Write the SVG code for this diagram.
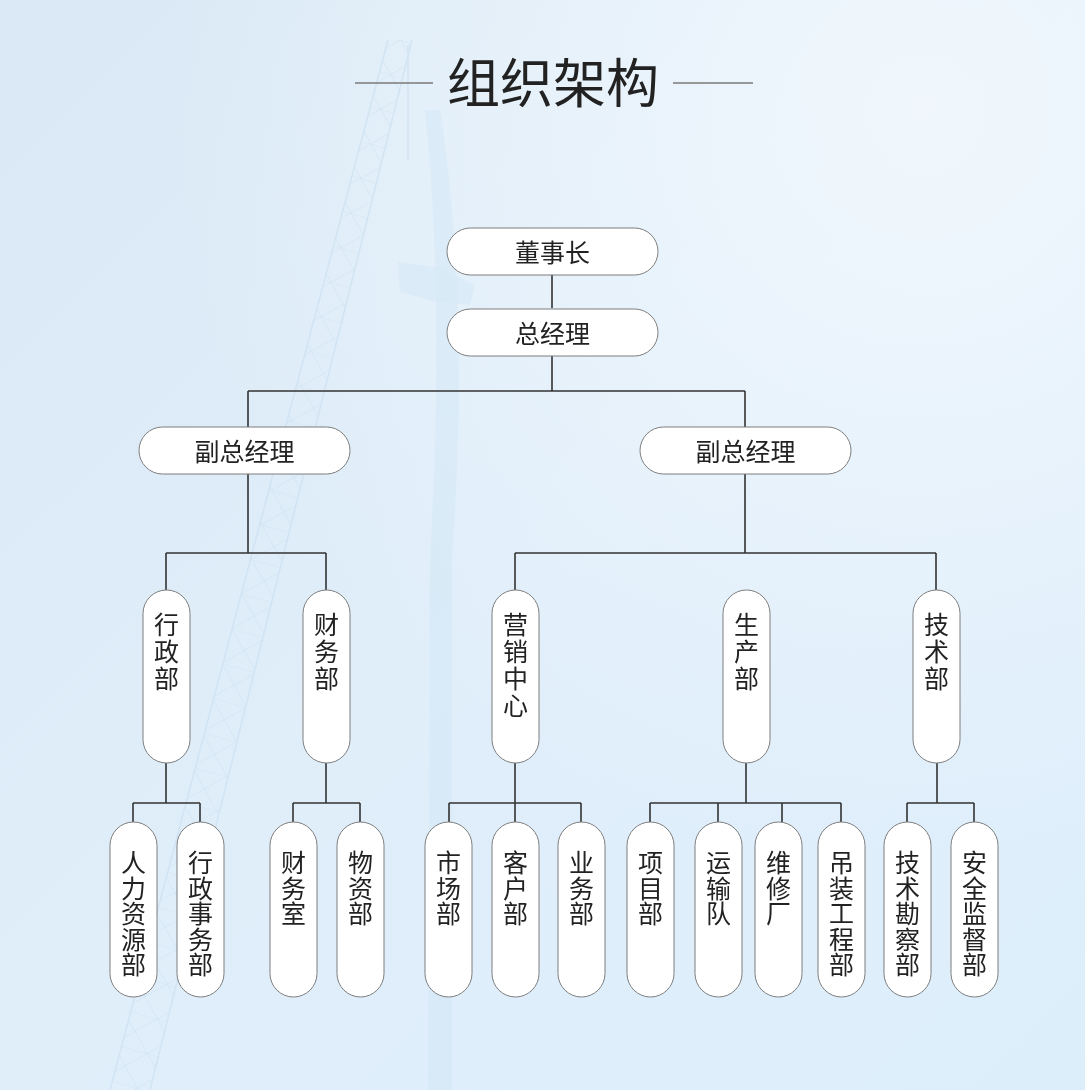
<svg xmlns="http://www.w3.org/2000/svg" width="1085" height="1090" viewBox="0 0 1085 1090">
<defs>
<linearGradient id="bg" x1="0" y1="0" x2="1" y2="1">
<stop offset="0" stop-color="#dae9f5"/>
<stop offset="0.5" stop-color="#e0eefa"/>
<stop offset="1" stop-color="#ddeefb"/>
</linearGradient>
<radialGradient id="glow" cx="0.85" cy="0.1" r="0.7">
<stop offset="0" stop-color="#f2f8fd" stop-opacity="0.9"/>
<stop offset="1" stop-color="#f2f8fd" stop-opacity="0"/>
</radialGradient>
<pattern id="lattice" width="36" height="36" patternUnits="userSpaceOnUse" patternTransform="rotate(16)">
<path d="M0 0 L36 36 M36 0 L0 36 M0 0 H36" stroke="#c9dfef" stroke-width="1" fill="none"/>
</pattern>
<style>
.node{fill:#ffffff;stroke:#7d7d7d;stroke-width:1}
.t{font-family:"Noto Sans CJK SC","Noto Sans CJK JP",sans-serif;font-size:25px;fill:#222;text-anchor:middle;dominant-baseline:central}
.title{font-family:"Noto Sans CJK SC","Noto Sans CJK JP",sans-serif;font-size:53px;fill:#222;text-anchor:middle;dominant-baseline:central}
.c{stroke:#333;stroke-width:1.6;fill:none}
.deco{stroke:#7a7a7a;stroke-width:1.4}
</style>
</defs>
<rect x="0" y="0" width="1085" height="1090" fill="url(#bg)"/>
<rect x="0" y="0" width="1085" height="1090" fill="url(#glow)"/>
<g opacity="0.55">
<path d="M110 1090 L150 1090 L412 40 L388 40 Z" fill="url(#lattice)"/>
<path d="M110 1090 L388 40 M150 1090 L412 40" stroke="#c6dcee" stroke-width="1.5" fill="none"/>
<path d="M408 45 L408 160" stroke="#c6dcee" stroke-width="1.5"/>
<path d="M425 110 Q445 300 430 560 L428 1090 L452 1090 L452 560 Q470 300 440 110 Z" fill="#cfe4f5" opacity="0.7"/>
<path d="M398 262 L440 268 L475 285 L470 305 L430 300 L400 292 Z" fill="#cfe4f5" opacity="0.7"/>
</g>
<line class="deco" x1="355" y1="83" x2="433" y2="83"/>
<line class="deco" x1="673" y1="83" x2="753" y2="83"/>
<text class="title" x="553" y="80">组织架构</text>
<g id="connectors">
<path class="c" d="M552 275 V308 M552 356 V391 M248 391 H745 M248 391 V427 M745 391 V427"/>
<path class="c" d="M248 474 V553 M166 553 H326 M166 553 V590 M326 553 V590"/>
<path class="c" d="M745 474 V553 M515 553 H936 M515 553 V590 M936 553 V590"/>
<path class="c" d="M166 763 V803 M133 803 H200 M133 803 V822 M200 803 V822"/>
<path class="c" d="M326 763 V803 M293 803 H360 M293 803 V822 M360 803 V822"/>
<path class="c" d="M515 763 V803 M449 803 H581 M449 803 V822 M515 803 V822 M581 803 V822"/>
<path class="c" d="M746 763 V803 M650 803 H841 M650 803 V822 M718 803 V822 M782 803 V822 M841 803 V822"/>
<path class="c" d="M937 763 V803 M907 803 H974 M907 803 V822 M974 803 V822"/>
</g>
<g id="n-dongshizhang"><rect class="node" x="447" y="228" width="211" height="47" rx="23.5"/><text class="t" x="552.5" y="251">董事长</text></g>
<g id="n-zongjingli"><rect class="node" x="447" y="309" width="211" height="47" rx="23.5"/><text class="t" x="552.5" y="332">总经理</text></g>
<g id="n-fuzong-left"><rect class="node" x="139" y="427" width="211" height="47" rx="23.5"/><text class="t" x="244.5" y="450">副总经理</text></g>
<g id="n-fuzong-right"><rect class="node" x="640" y="427" width="211" height="47" rx="23.5"/><text class="t" x="745.5" y="450">副总经理</text></g>

<g id="n-xingzhengbu"><rect class="node" x="143" y="590" width="47" height="173" rx="23.5"/><text class="t"><tspan x="166.5" y="623">行</tspan><tspan x="166.5" y="650">政</tspan><tspan x="166.5" y="677">部</tspan></text></g>
<g id="n-caiwubu"><rect class="node" x="303" y="590" width="47" height="173" rx="23.5"/><text class="t"><tspan x="326.5" y="623">财</tspan><tspan x="326.5" y="650">务</tspan><tspan x="326.5" y="677">部</tspan></text></g>
<g id="n-yingxiao"><rect class="node" x="492" y="590" width="47" height="173" rx="23.5"/><text class="t"><tspan x="515.5" y="623">营</tspan><tspan x="515.5" y="650">销</tspan><tspan x="515.5" y="677">中</tspan><tspan x="515.5" y="704">心</tspan></text></g>
<g id="n-shengchan"><rect class="node" x="723" y="590" width="47" height="173" rx="23.5"/><text class="t"><tspan x="746.5" y="623">生</tspan><tspan x="746.5" y="650">产</tspan><tspan x="746.5" y="677">部</tspan></text></g>
<g id="n-jishu"><rect class="node" x="913" y="590" width="47" height="173" rx="23.5"/><text class="t"><tspan x="936.5" y="623">技</tspan><tspan x="936.5" y="650">术</tspan><tspan x="936.5" y="677">部</tspan></text></g>

<g id="n-renli"><rect class="node" x="110" y="822" width="47" height="175" rx="23.5"/><text class="t"><tspan x="133.5" y="861">人</tspan><tspan x="133.5" y="886.5">力</tspan><tspan x="133.5" y="912">资</tspan><tspan x="133.5" y="937.5">源</tspan><tspan x="133.5" y="963">部</tspan></text></g>
<g id="n-xingzhengshiwu"><rect class="node" x="177" y="822" width="47" height="175" rx="23.5"/><text class="t"><tspan x="200.5" y="861">行</tspan><tspan x="200.5" y="886.5">政</tspan><tspan x="200.5" y="912">事</tspan><tspan x="200.5" y="937.5">务</tspan><tspan x="200.5" y="963">部</tspan></text></g>
<g id="n-caiwushi"><rect class="node" x="270" y="822" width="47" height="175" rx="23.5"/><text class="t"><tspan x="293.5" y="861">财</tspan><tspan x="293.5" y="886.5">务</tspan><tspan x="293.5" y="912">室</tspan></text></g>
<g id="n-wuzi"><rect class="node" x="337" y="822" width="47" height="175" rx="23.5"/><text class="t"><tspan x="360.5" y="861">物</tspan><tspan x="360.5" y="886.5">资</tspan><tspan x="360.5" y="912">部</tspan></text></g>
<g id="n-shichang"><rect class="node" x="425" y="822" width="47" height="175" rx="23.5"/><text class="t"><tspan x="448.5" y="861">市</tspan><tspan x="448.5" y="886.5">场</tspan><tspan x="448.5" y="912">部</tspan></text></g>
<g id="n-kehu"><rect class="node" x="492" y="822" width="47" height="175" rx="23.5"/><text class="t"><tspan x="515.5" y="861">客</tspan><tspan x="515.5" y="886.5">户</tspan><tspan x="515.5" y="912">部</tspan></text></g>
<g id="n-yewu"><rect class="node" x="558" y="822" width="47" height="175" rx="23.5"/><text class="t"><tspan x="581.5" y="861">业</tspan><tspan x="581.5" y="886.5">务</tspan><tspan x="581.5" y="912">部</tspan></text></g>
<g id="n-xiangmu"><rect class="node" x="627" y="822" width="47" height="175" rx="23.5"/><text class="t"><tspan x="650.5" y="861">项</tspan><tspan x="650.5" y="886.5">目</tspan><tspan x="650.5" y="912">部</tspan></text></g>
<g id="n-yunshu"><rect class="node" x="695" y="822" width="47" height="175" rx="23.5"/><text class="t"><tspan x="718.5" y="861">运</tspan><tspan x="718.5" y="886.5">输</tspan><tspan x="718.5" y="912">队</tspan></text></g>
<g id="n-weixiu"><rect class="node" x="755" y="822" width="47" height="175" rx="23.5"/><text class="t"><tspan x="778.5" y="861">维</tspan><tspan x="778.5" y="886.5">修</tspan><tspan x="778.5" y="912">厂</tspan></text></g>
<g id="n-diaozhuang"><rect class="node" x="818" y="822" width="47" height="175" rx="23.5"/><text class="t"><tspan x="841.5" y="861">吊</tspan><tspan x="841.5" y="886.5">装</tspan><tspan x="841.5" y="912">工</tspan><tspan x="841.5" y="937.5">程</tspan><tspan x="841.5" y="963">部</tspan></text></g>
<g id="n-kancha"><rect class="node" x="884" y="822" width="47" height="175" rx="23.5"/><text class="t"><tspan x="907.5" y="861">技</tspan><tspan x="907.5" y="886.5">术</tspan><tspan x="907.5" y="912">勘</tspan><tspan x="907.5" y="937.5">察</tspan><tspan x="907.5" y="963">部</tspan></text></g>
<g id="n-anquan"><rect class="node" x="951" y="822" width="47" height="175" rx="23.5"/><text class="t"><tspan x="974.5" y="861">安</tspan><tspan x="974.5" y="886.5">全</tspan><tspan x="974.5" y="912">监</tspan><tspan x="974.5" y="937.5">督</tspan><tspan x="974.5" y="963">部</tspan></text></g>
</svg>
